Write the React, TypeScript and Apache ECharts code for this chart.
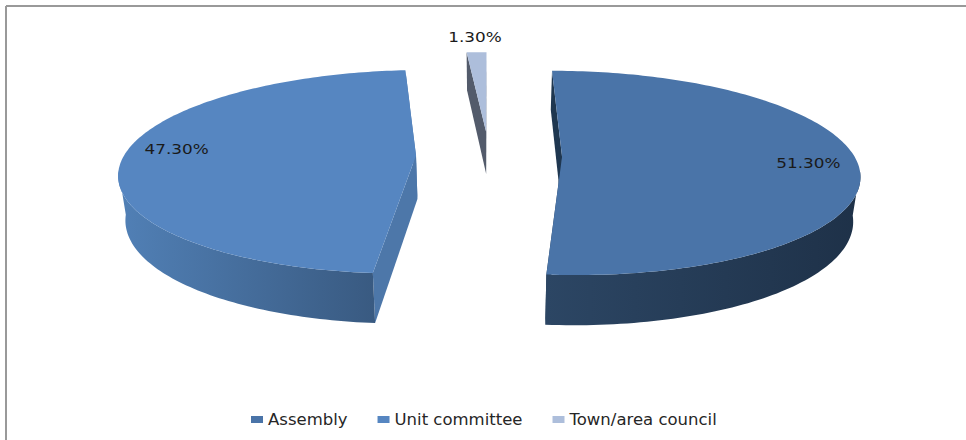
import React, { useEffect, useRef } from "react";
import * as echarts from "echarts";

const categories = ["Assembly", "Unit committee", "Town/area council"];
const shares = [51.3, 47.3, 1.3];
const shareLabels = ["51.30%", "47.30%", "1.30%"];

const topColors = ["#4A74A8", "#5686C1", "#ADBEDB"];
const cutColors = ["#1F3750", "#4D77A9", "#535B6B"];
const wallStops = [
  ["#2C4664", "#1E3148"],
  ["#5180B6", "#395A81"],
  ["#535B6B", "#535B6B"],
];
const labelBoxes = [
  { rho: 0.82, dx: 5, dy: 3 },
  { rho: 0.82, dx: 0, dy: -6 },
  { rho: 1, dx: -1.5, dy: -15 },
];

// Perspective projection of the pie's plane onto the page.
const CX = 489;
const CY = 155.6;
const AX = 292;
const EY = -74.5;
const PERSP = 0.159;
const EXPLODE = 0.25;
const BASE_K = 1.02;
const DEPTH = 46.6;
const SILHOUETTE_COS = -0.14;

const project = (u: number, v: number, low: boolean): [number, number] => {
  const w = 1 + PERSP * v;
  const k = low ? BASE_K : 1;
  const x = CX + (AX * u) / (w * k);
  const y = (CY + EY * v) / (w * k) + (low ? DEPTH / w : 0);
  return [x, y];
};

const total = shares.reduce((a, b) => a + b, 0);
const spans = shares.map((value, i) => {
  const before = shares.slice(0, i).reduce((a, b) => a + b, 0);
  return {
    start: (before / total) * Math.PI * 2,
    end: ((before + value) / total) * Math.PI * 2,
  };
});

const renderSlice = (index: number) => () => {
  const { start, end } = spans[index];
  const mid = (start + end) / 2;
  const ou = EXPLODE * Math.sin(mid);
  const ov = EXPLODE * Math.cos(mid);
  const pt = (t: number, r: number, low: boolean) =>
    project(ou + r * Math.sin(t), ov + r * Math.cos(t), low);

  const steps = 160;
  const arc: number[] = [];
  for (let i = 0; i <= steps; i++) arc.push(start + ((end - start) * i) / steps);

  const top = [pt(0, 0, false), ...arc.map((t) => pt(t, 1, false))];

  // The outer wall only shows on the front of the rim, up to the silhouette.
  const front = arc.filter((t) => Math.cos(t) < SILHOUETTE_COS);
  const children: any[] = [];

  [start, end].forEach((t) => {
    children.push({
      type: "polygon",
      shape: { points: [pt(0, 0, false), pt(t, 1, false), pt(t, 1, true), pt(0, 0, true)] },
      style: { fill: cutColors[index] },
    });
  });

  if (front.length > 1) {
    const stops = wallStops[index];
    children.push({
      type: "polygon",
      shape: {
        points: [
          ...front.map((t) => pt(t, 1, false)),
          ...front.slice().reverse().map((t) => pt(t, 1, true)),
        ],
      },
      style: {
        fill: new echarts.graphic.LinearGradient(0, 0, 1, 0, [
          { offset: 0, color: stops[0] },
          { offset: 1, color: stops[1] },
        ]),
      },
    });
  }

  children.push({
    type: "polygon",
    shape: { points: top },
    style: { fill: topColors[index] },
  });

  const box = labelBoxes[index];
  const [lx, ly] = pt(mid, box.rho, false);
  children.push({
    type: "text",
    x: lx + box.dx,
    y: ly + box.dy,
    scaleX: 1.25,
    style: {
      text: shareLabels[index],
      fill: "#1a1a1a",
      font: '13.5px "DejaVu Sans"',
      align: "center",
      verticalAlign: "middle",
    },
  });

  return { type: "group", children };
};

// Far slice first, so nearer ones paint over it.
const paintOrder = [2, 1, 0];

export default function App() {
  const ref = useRef<HTMLDivElement>(null);
  useEffect(() => {
    document.body.style.margin = "0";
    const chart = echarts.init(ref.current!, undefined, { renderer: "svg" });
    chart.setOption({
      animation: false,
      backgroundColor: "#ffffff",
      legend: {
        data: categories,
        left: 246,
        top: 406,
        icon: "rect",
        itemWidth: 12,
        itemHeight: 7,
        itemGap: 30,
        textStyle: { fontFamily: "DejaVu Sans", fontSize: 16.5, color: "#262626" },
      },
      graphic: [
        { type: "line", shape: { x1: 6, y1: 6, x2: 966, y2: 6 }, style: { stroke: "#999999", lineWidth: 2 } },
        { type: "line", shape: { x1: 6, y1: 6, x2: 6, y2: 440 }, style: { stroke: "#999999", lineWidth: 2 } },
      ],
      series: paintOrder.map((i) => ({
        type: "custom",
        name: categories[i],
        coordinateSystem: "none",
        silent: true,
        itemStyle: { color: topColors[i] },
        data: [shares[i]],
        renderItem: renderSlice(i),
      })),
    });
    return () => chart.dispose();
  }, []);
  return <div ref={ref} style={{ width: 966, height: 440 }} />;
}
